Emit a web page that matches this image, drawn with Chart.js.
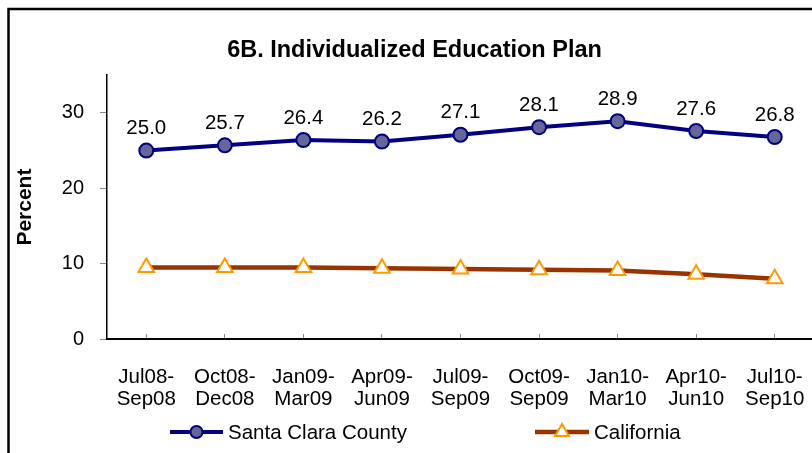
<!DOCTYPE html>
<html>
<head>
<meta charset="utf-8">
<script src="https://cdn.jsdelivr.net/npm/chart.js@4.4.0/dist/chart.umd.min.js"></script>
<style>
  html, body { margin: 0; padding: 0; background: #fff; overflow: hidden; }
  #wrap { width: 812px; height: 453px; position: relative; overflow: hidden; }
</style>
</head>
<body>
<div id="wrap"><canvas id="iepChart" width="825" height="453"></canvas></div>
<script>
// quarters (two-line labels, as on the original)
const periods = [
  ['Jul08-', 'Sep08'], ['Oct08-', 'Dec08'], ['Jan09-', 'Mar09'],
  ['Apr09-', 'Jun09'], ['Jul09-', 'Sep09'], ['Oct09-', 'Sep09'],
  ['Jan10-', 'Mar10'], ['Apr10-', 'Jun10'], ['Jul10-', 'Sep10']
];
const santaClara = [25.0, 25.7, 26.4, 26.2, 27.1, 28.1, 28.9, 27.6, 26.8];
const california = [9.5, 9.5, 9.5, 9.4, 9.3, 9.2, 9.1, 8.6, 8.0];
const yTicks = [0, 10, 20, 30];

const FONT = 'Liberation Sans, Arial, sans-serif';

// frame round the whole picture (right and bottom run off the edge)
const framePlugin = {
  id: 'frame',
  beforeDraw(chart) {
    const c = chart.ctx;
    c.save();
    c.strokeStyle = '#000';
    c.lineWidth = 2.5;
    c.strokeRect(8.5, 9, 900, 600);
    c.restore();
  }
};

// value labels above the Santa Clara points
const valueLabels = {
  id: 'valueLabels',
  afterDatasetsDraw(chart) {
    const c = chart.ctx;
    const meta = chart.getDatasetMeta(0);
    c.save();
    c.font = '20.5px ' + FONT;
    c.fillStyle = '#000';
    c.textAlign = 'center';
    c.textBaseline = 'middle';
    meta.data.forEach((pt, i) => {
      c.fillText(santaClara[i].toFixed(1), pt.x, pt.y - 22);
    });
    c.restore();
  }
};

// Excel style legend: line segment with marker in the middle
const lineLegend = {
  id: 'lineLegend',
  afterDraw(chart) {
    const c = chart.ctx;
    const spots = [{ x1: 170, x2: 223 }, { x1: 535, x2: 589 }];
    const y = 432;
    c.save();
    chart.data.datasets.forEach((ds, i) => {
      const s = spots[i];
      c.strokeStyle = ds.borderColor;
      c.lineWidth = ds.borderWidth;
      c.beginPath();
      c.moveTo(s.x1, y);
      c.lineTo(s.x2, y);
      c.stroke();
      c.fillStyle = ds.pointBackgroundColor;
      c.strokeStyle = ds.pointBorderColor;
      c.lineWidth = ds.pointBorderWidth;
      Chart.helpers.drawPoint(c, {
        pointStyle: ds.pointStyle,
        radius: ds.pointStyle === 'triangle' ? 8 : 6,
        rotation: 0,
        borderWidth: ds.pointBorderWidth
      }, (s.x1 + s.x2) / 2, y);
      c.fillStyle = '#000';
      c.font = '20.5px ' + FONT;
      c.textAlign = 'left';
      c.textBaseline = 'middle';
      c.fillText(ds.label, s.x2 + 5, y + 1);
    });
    c.restore();
  }
};

new Chart(document.getElementById('iepChart'), {
  type: 'line',
  data: {
    labels: periods,
    datasets: [{
      label: 'Santa Clara County',
      data: santaClara,
      borderColor: '#000080',
      borderWidth: 4,
      pointStyle: 'circle',
      pointRadius: 7,
      pointBackgroundColor: '#666699',
      pointBorderColor: '#000080',
      pointBorderWidth: 2,
      tension: 0
    }, {
      label: 'California',
      data: california,
      borderColor: '#993300',
      borderWidth: 4.5,
      pointStyle: 'triangle',
      pointRadius: 9,
      pointBackgroundColor: '#ffffff',
      pointBorderColor: '#FF9900',
      pointBorderWidth: 2,
      tension: 0
    }]
  },
  options: {
    responsive: false,
    animation: false,
    layout: { padding: { left: 4, right: 0, top: 0, bottom: 0 } },
    plugins: {
      legend: { display: false },
      tooltip: { enabled: false },
      title: {
        display: true,
        text: '6B. Individualized Education Plan',
        color: '#000',
        font: { family: FONT, size: 23.5, weight: 'bold', lineHeight: 1.2 },
        padding: { top: 36, bottom: 11 }
      }
    },
    scales: {
      x: {
        offset: true,
        afterFit(scale) {
          scale.height = 114;
          scale.paddingLeft = 0;
          scale.paddingRight = 0;
        },
        grid: {
          display: true,
          drawOnChartArea: false,
          drawTicks: true,
          tickLength: -5,
          color: '#888'
        },
        border: { display: true, color: '#000', width: 2 },
        ticks: {
          color: '#000',
          font: { family: FONT, size: 20.5, lineHeight: 1.08 },
          padding: 32,
          maxRotation: 0,
          autoSkip: false
        }
      },
      y: {
        min: 0,
        max: 35,
        afterFit(scale) { scale.width = 103; },
        afterBuildTicks(scale) { scale.ticks = yTicks.map(v => ({ value: v })); },
        grid: {
          display: true,
          drawOnChartArea: false,
          tickLength: 7,
          color: '#888'
        },
        border: { display: true, color: '#000', width: 1.5 },
        ticks: {
          color: '#000',
          font: { family: FONT, size: 20 },
          padding: 16
        },
        title: {
          display: true,
          text: 'Percent',
          color: '#000',
          font: { family: FONT, size: 21, weight: 'bold', lineHeight: 1.2 },
          padding: { top: 9, bottom: 0 }
        }
      }
    }
  },
  plugins: [framePlugin, valueLabels, lineLegend]
});
</script>
</body>
</html>
